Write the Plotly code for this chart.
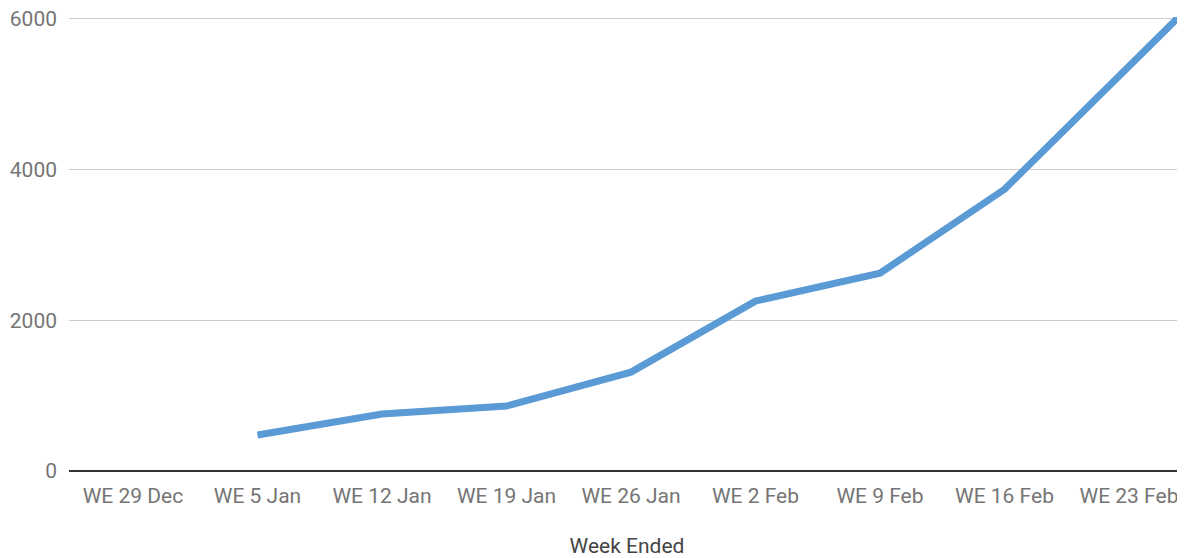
import plotly.graph_objects as go

weeks = ["WE 29 Dec", "WE 5 Jan", "WE 12 Jan", "WE 19 Jan", "WE 26 Jan",
         "WE 2 Feb", "WE 9 Feb", "WE 16 Feb", "WE 23 Feb", "WE 1 Mar"]
values = [None, 477, 755, 861, 1311, 2252, 2623, 3735, 5370, 7000]
y_ticks = [0, 2000, 4000, 6000]

fig = go.Figure()
fig.add_trace(go.Scatter(
    x=weeks, y=values, mode="lines",
    line=dict(color="#5B9BD5", width=7),
    connectgaps=False, showlegend=False, hoverinfo="x+y",
))

# page body has an 8px default margin; compensate so the plot lands where the reference has it
fig.update_layout(
    width=1177, height=550,
    margin=dict(l=61, r=0, t=8.5, b=87),
    paper_bgcolor="white", plot_bgcolor="white",
    font=dict(family="Roboto, sans-serif", size=21, color="#757575"),
    xaxis=dict(
        type="category",
        categoryorder="array", categoryarray=weeks,
        range=[-0.514, 8.45],
        showgrid=False, zeroline=False,
        showline=False, automargin=False,
        tickfont=dict(size=21, color="#757575"),
        ticks="", ticklabelstandoff=10,
        title=dict(text="Week Ended", font=dict(size=21, color="#444444"), standoff=36),
    ),
    yaxis=dict(
        range=[0, 6020],
        tickvals=y_ticks,
        showgrid=True, gridcolor="#CCCCCC", gridwidth=1,
        zeroline=True, zerolinecolor="#333333", zerolinewidth=2,
        showline=False, automargin=False,
        tickfont=dict(size=21, color="#757575"),
        ticks="", ticklabelstandoff=11,
        ticklabeloverflow="allow",
    ),
)

fig.write_html("out.html")
